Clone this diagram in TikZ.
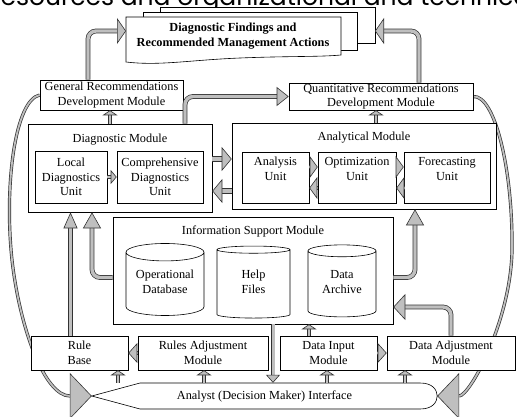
\documentclass[tikz,border=0pt]{standalone}
\usepackage{fontspec}
\setmainfont{Liberation Serif}
\newfontfamily\headfont{Poppins}
\usetikzlibrary{arrows.meta, shapes.geometric, backgrounds, positioning}

\begin{document}
\begin{tikzpicture}[
        x = 1pt, y = -1pt,
        font = \fontsize{12.3}{14.6}\selectfont,
        box/.style = {draw=black, fill=white, line width=0.6pt, align=center, inner sep=0pt},
        drum/.style = {cylinder, shape border rotate=90, aspect=0.3, draw=black, fill=white, line width=0.6pt, align=center, inner sep=0pt, text height=18.5pt},
        hollow/.style n args = {3}{draw=black!80, double=gray!50, double distance=#1, line width=0.7pt,
            -{Triangle[length=#2, width=#3, color=black!80, fill=gray!50, line width=0.6pt]}}]

        \useasboundingbox (0,0) rectangle (517,417);

        % NODES
        % heading (cut by the page edge)
        \node[anchor=base west, inner sep=0pt, font=\headfont\fontsize{25}{25}\selectfont] (heading) at (-9,5.5) {resources and organizational and technical};

        % documents
        \draw[fill=white, line width=0.6pt] (160,7) rectangle (375,43);
        \draw[fill=white, line width=0.6pt] (143,12) rectangle (357,50);
        \draw[fill=white, line width=0.6pt] (126,17) -- (341,17) -- (341,55) .. controls (320,57) and (290,56) .. (240,58) .. controls (190,60) and (160,66) .. (126,62) -- cycle;
        \node[align=center, font=\fontsize{12.3}{14.6}\selectfont\bfseries] (findings) at (233,36) {Diagnostic Findings and\\Recommended Management Actions};
        \coordinate (docL) at (126,31);
        \coordinate (docR) at (375,31);

        % recommendations
        \node[box, minimum width=143pt, minimum height=30pt] (genrec) at (111.5,95) {General Recommendations\\Development Module};
        \node[box, minimum width=184pt, minimum height=27pt] (quantrec) at (381,96.5) {Quantitative Recommendations\\Development Module};

        % diagnostic module
        \node[box, minimum width=184pt, minimum height=88pt] (diag) at (120,168) {};
        \node (diag_cap) at (120,140) {Diagnostic Module};
        \node[box, minimum width=72pt, minimum height=52pt] (local) at (71,177) {Local\\Diagnostics\\Unit};
        \node[box, minimum width=86pt, minimum height=52pt, right of = local, node distance = 89pt] (comp) {Comprehensive\\Diagnostics\\Unit};

        % analytical module
        \node[box, minimum width=264pt, minimum height=86pt] (analyt) at (364,166) {};
        \node (analyt_cap) at (364,138) {Analytical Module};
        \node[box, minimum width=67pt, minimum height=51pt, text depth=17pt] (analysis) at (275.5,177.5) {Analysis\\Unit};
        \node[box, minimum width=78pt, minimum height=51pt, text depth=17pt, right of = analysis, node distance = 81.5pt] (optim) {Optimization\\Unit};
        \node[box, minimum width=86pt, minimum height=51pt, text depth=17pt, right of = optim, node distance = 90pt] (forecast) {Forecasting\\Unit};

        % information support
        \node[box, minimum width=280pt, minimum height=107pt] (ism) at (253,270.5) {};
        \node (ism_cap) at (253,231) {Information Support Module};
        \node[drum, minimum width=78pt, minimum height=72pt] (opdb) at (165,284) {Operational\\Database};
        \node[drum, minimum width=73pt, minimum height=72pt] (help) at (253.5,284) {Help\\Files};
        \node[drum, minimum width=68pt, minimum height=72pt] (archive) at (342,284) {Data\\Archive};

        % bottom row
        \node[box, minimum width=97pt, minimum height=34pt] (rulebase) at (79.5,353) {Rule\\Base};
        \node[box, minimum width=130pt, minimum height=34pt] (rulesadj) at (203,353) {Rules Adjustment\\Module};
        \node[box, minimum width=97pt, minimum height=34pt] (datainput) at (328.5,353) {Data Input\\Module};
        \node[box, minimum width=128pt, minimum height=34pt] (dataadj) at (451,353) {Data Adjustment\\Module};

        % interface
        \node[inner sep=0pt, minimum width=345pt, minimum height=26pt] (analyst) at (264.5,396) {Analyst (Decision Maker) Interface};
        \draw[line width=0.6pt] (analyst.west) -- (140,383) -- (420,383) .. controls (433,383) and (437,390) .. (analyst.east) .. controls (437,402) and (433,409) .. (420,409) -- (140,409) -- cycle;

        % ARROWS
        % to the findings
        \draw[hollow={3.4pt}{9pt}{26pt}, rounded corners=8pt] ([xshift=-23.5pt]genrec.north) |- (docL);
        \draw[hollow={3.4pt}{9pt}{26pt}, rounded corners=8pt] ([xshift=38pt]quantrec.north) |- (docR);
        \draw[hollow={3.4pt}{12pt}{19pt}, rounded corners=8pt] ([xshift=65pt]diag.north) |- (quantrec.west);

        % into the modules
        \draw[hollow={3.4pt}{16pt}{14pt}] ([xshift=-9pt]rulebase.north) -- ([xshift=-9pt]rulebase.north |- diag.south);
        \draw[hollow={3.4pt}{16pt}{18pt}, rounded corners=8pt] ([yshift=-7pt]ism.west) -| ([xshift=-28pt]diag.south);
        \draw[hollow={3.4pt}{16pt}{18pt}, rounded corners=8pt] ([yshift=-7pt]ism.east) -| ([xshift=51pt]analyt.south);
        \draw[hollow={3.4pt}{12pt}{26pt}, rounded corners=8pt] (dataadj.north) |- ([yshift=-36.5pt]ism.east);

        % between modules and units
        \draw[hollow={4pt}{10pt}{24pt}] ([yshift=9pt]diag.east) -- ([yshift=9pt]diag.east -| analyt.west);
        \draw[hollow={4pt}{10pt}{24pt}] ([yshift=-23pt]diag.east -| analyt.west) -- ([yshift=-23pt]diag.east);
        \draw[hollow={1.8pt}{6pt}{14pt}] (local) -- (comp);
        \draw[hollow={1.8pt}{8pt}{22pt}] ([yshift=10.5pt]analysis.east) -- ([yshift=10.5pt]analysis.east -| optim.west);
        \draw[hollow={1.8pt}{8pt}{22pt}] ([yshift=-10.5pt]optim.west) -- ([yshift=-10.5pt]optim.west -| analysis.east);
        \draw[hollow={1.8pt}{8pt}{22pt}] ([yshift=10.5pt]optim.east) -- ([yshift=10.5pt]optim.east -| forecast.west);
        \draw[hollow={1.8pt}{8pt}{22pt}] ([yshift=-10.5pt]forecast.west) -- ([yshift=-10.5pt]forecast.west -| optim.east);
        \draw[hollow={2pt}{9pt}{20pt}] (rulesadj) -- (rulebase);
        \draw[hollow={2pt}{9pt}{20pt}] (datainput) -- (dataadj);

        % short arrows
        \draw[hollow={2.2pt}{5pt}{15pt}] ([xshift=-10pt]diag.north) -- ([xshift=-10pt]diag.north |- genrec.south);
        \draw[hollow={2.2pt}{5pt}{15pt}] ([xshift=12pt]analyt.north) -- ([xshift=12pt]analyt.north |- quantrec.south);
        \draw[hollow={2.2pt}{5pt}{15pt}] ([xshift=-19.5pt]datainput.north) -- ([xshift=-19.5pt]datainput.north |- ism.south);
        \draw[hollow={3pt}{8pt}{14pt}] ([xshift=20pt]ism.south) -- ([xshift=20pt]ism.south |- analyst.north);
        \foreach \mod/\dx in {rulebase/38.5, rulesadj/1, datainput/-1.5, dataadj/-46}
            \draw[hollow={2.2pt}{5pt}{15pt}] ([xshift=\dx pt]\mod.south |- analyst.north) -- ([xshift=\dx pt]\mod.south);

        % feedback loops
        \begin{pgfonlayer}{background}
        \draw[hollow={1.8pt}{22pt}{46pt}] (genrec.west) .. controls (15,100) and (4,185) .. (12,260) .. controls (20,330) and (45,396) .. (analyst.west);
        \draw[hollow={1.8pt}{22pt}{46pt}] (quantrec.east) .. controls (495,95) and (513,170) .. (512,250) .. controls (511,320) and (470,396) .. (analyst.east);
        \end{pgfonlayer}
\end{tikzpicture}
\end{document}
